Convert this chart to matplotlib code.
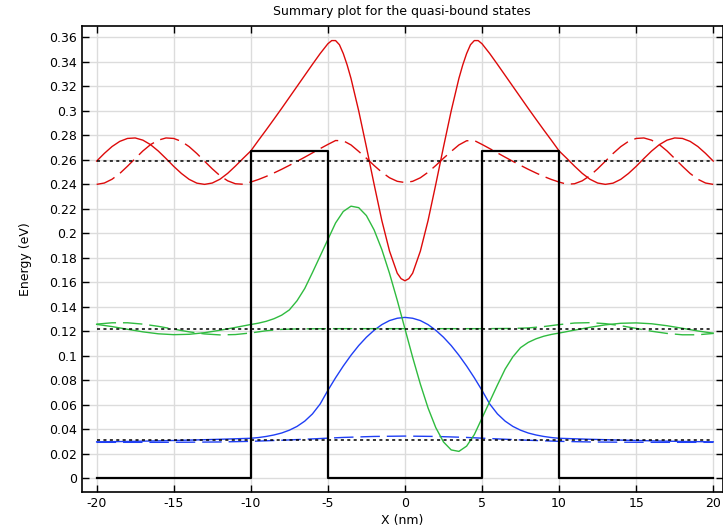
import numpy as np
import matplotlib.pyplot as plt

plt.rcParams['axes.unicode_minus'] = False
plt.rcParams['font.family'] = 'DejaVu Sans'

# Potential profile (double barrier)
pot_x = [-20, -10, -10, -5, -5, 5, 5, 10, 10, 20]
pot_v = [0, 0, 0.2674, 0.2674, 0, 0, 0.2674, 0.2674, 0, 0]

# Quasi-bound state energies (eV)
energies = [0.0310, 0.1219, 0.2594]

# State 3 (red), real and imaginary parts offset by energy
x_red = [-20, -19.5, -19, -18.5, -18, -17.5, -17, -16.5, -16, -15.5, -15,
         -14.5, -14, -13.5, -13, -12.5, -12, -11.5, -11, -10.5, -10,
         -9.5, -9, -8.5, -8, -7.5, -7, -6.5, -6, -5.5, -5, -4.75, -4.5,
         -4.25, -4, -3.75, -3.5, -3, -2.5, -2, -1.5, -1, -0.5, -0.25, 0,
         0.25, 0.5, 1, 1.5, 2, 2.5, 3, 3.5, 3.75, 4, 4.25, 4.5, 4.75, 5,
         5.5, 6, 6.5, 7, 7.5, 8, 8.5, 9, 9.5, 10,
         10.5, 11, 11.5, 12, 12.5, 13, 13.5, 14, 14.5, 15, 15.5, 16, 16.5,
         17, 17.5, 18, 18.5, 19, 19.5, 20]
red_re = [0.2590, 0.2653, 0.2709, 0.2751, 0.2775, 0.2779, 0.2761, 0.2724,
          0.2672, 0.2611, 0.2547, 0.2489, 0.2441, 0.2410, 0.2400, 0.2411,
          0.2442, 0.2490, 0.2549, 0.2612, 0.2673,
          0.2760, 0.2845, 0.2932, 0.3020, 0.3110, 0.3200, 0.3290, 0.3380,
          0.3468, 0.3548, 0.3574, 0.3574,
          0.3540, 0.3468, 0.3375, 0.3265, 0.3000, 0.2705, 0.2400, 0.2105,
          0.1855, 0.1675, 0.1630, 0.1613,
          0.1630, 0.1675, 0.1855, 0.2105, 0.2400, 0.2705, 0.3000, 0.3265,
          0.3375, 0.3468, 0.3540, 0.3574, 0.3574, 0.3548,
          0.3468, 0.3380, 0.3290, 0.3200, 0.3110, 0.3020, 0.2932, 0.2845,
          0.2760, 0.2673,
          0.2612, 0.2549, 0.2490, 0.2442, 0.2411, 0.2400, 0.2410, 0.2441,
          0.2489, 0.2547, 0.2611, 0.2672, 0.2724, 0.2761, 0.2779, 0.2775,
          0.2751, 0.2709, 0.2653, 0.2590]
x_red_im = [-20, -19.5, -19, -18.5, -18, -17.5, -17, -16.5, -16, -15.5, -15,
            -14.5, -14, -13.5, -13, -12.5, -12, -11.5, -11, -10.5, -10,
            -9.5, -9, -8.5, -8, -7.5, -7, -6.5, -6, -5.5, -5, -4.5,
            -4, -3.5, -3, -2.5, -2, -1.5, -1, -0.5, 0,
            0.5, 1, 1.5, 2, 2.5, 3, 3.5, 4,
            4.5, 5, 5.5, 6, 6.5, 7, 7.5, 8, 8.5, 9, 9.5, 10,
            10.5, 11, 11.5, 12, 12.5, 13, 13.5, 14, 14.5, 15, 15.5, 16, 16.5,
            17, 17.5, 18, 18.5, 19, 19.5, 20]
red_im = [0.2400, 0.2411, 0.2442, 0.2489, 0.2548, 0.2611, 0.2673, 0.2725,
          0.2761, 0.2779, 0.2775, 0.2751, 0.2708, 0.2652, 0.2589, 0.2527,
          0.2471, 0.2429, 0.2405, 0.2401, 0.2419,
          0.2440, 0.2465, 0.2493, 0.2523, 0.2555, 0.2588, 0.2622, 0.2657,
          0.2692, 0.2726, 0.2758,
          0.2756, 0.2722, 0.2669, 0.2613, 0.2554, 0.2499, 0.2454, 0.2425,
          0.2415,
          0.2425, 0.2454, 0.2499, 0.2554, 0.2613, 0.2669, 0.2722, 0.2756,
          0.2758, 0.2726, 0.2692, 0.2657, 0.2622, 0.2588, 0.2555,
          0.2523, 0.2493, 0.2465, 0.2440, 0.2419,
          0.2401, 0.2405, 0.2429, 0.2471, 0.2527, 0.2589, 0.2652, 0.2708,
          0.2751, 0.2775, 0.2779, 0.2761, 0.2725, 0.2673, 0.2611, 0.2548,
          0.2489, 0.2442, 0.2411, 0.2400]

# State 2 (green)
x_green = [-20, -19, -18, -17, -16, -15, -14, -13, -12, -11, -10,
           -9.5, -9, -8.5, -8, -7.5, -7, -6.5, -6, -5.5, -5,
           -4.5, -4, -3.5, -3, -2.5, -2, -1.5, -1, -0.5, 0,
           0.5, 1, 1.5, 2, 2.5, 3, 3.5, 4, 4.5, 5,
           5.5, 6, 6.5, 7, 7.5, 8, 8.5, 9, 9.5, 10,
           11, 12, 13, 14, 15, 16, 17, 18, 19, 20]
green_re = [0.1257, 0.1239, 0.1217, 0.1196, 0.1180, 0.1173, 0.1176, 0.1189,
            0.1209, 0.1232, 0.1256,
            0.1267, 0.1282, 0.1303, 0.1332, 0.1375, 0.1450, 0.1550, 0.1680,
            0.1815, 0.1950,
            0.2085, 0.2179, 0.2222, 0.2210, 0.2145, 0.2028, 0.1868, 0.1673,
            0.1454, 0.1221,
            0.0988, 0.0769, 0.0574, 0.0414, 0.0297, 0.0232, 0.0220, 0.0263,
            0.0357, 0.0492,
            0.0627, 0.0762, 0.0892, 0.0992, 0.1067, 0.1110, 0.1139, 0.1160,
            0.1175, 0.1186,
            0.1210, 0.1233, 0.1253, 0.1266, 0.1269, 0.1262, 0.1246, 0.1225,
            0.1203, 0.1185]
x_green_im = list(range(-20, 21))
green_im = [0.1259, 0.1270, 0.1270, 0.1259, 0.1241, 0.1218, 0.1196, 0.1179,
            0.1171, 0.1174, 0.1187, 0.1205, 0.1216, 0.1220, 0.1221, 0.1222,
            0.1222, 0.1222, 0.1222, 0.1222, 0.1222, 0.1222, 0.1222, 0.1222,
            0.1222, 0.1222, 0.1223, 0.1224, 0.1228, 0.1239, 0.1255, 0.1268,
            0.1271, 0.1263, 0.1246, 0.1224, 0.1201, 0.1183, 0.1172, 0.1172,
            0.1183]

# State 1 (blue)
x_blue = [-20, -18, -16, -14, -12, -10,
          -9.5, -9, -8.5, -8, -7.5, -7, -6.5, -6, -5.5, -5,
          -4.5, -4, -3.5, -3, -2.5, -2, -1.5, -1, -0.5, 0,
          0.5, 1, 1.5, 2, 2.5, 3, 3.5, 4, 4.5, 5,
          5.5, 6, 6.5, 7, 7.5, 8, 8.5, 9, 9.5, 10,
          12, 14, 16, 18, 20]
blue_re = [0.0298, 0.0301, 0.0306, 0.0312, 0.0319, 0.0327,
           0.0333, 0.0342, 0.0354, 0.0370, 0.0393, 0.0424, 0.0467, 0.0526,
           0.0607, 0.0718,
           0.0821, 0.0917, 0.1005, 0.1084, 0.1152, 0.1209, 0.1255, 0.1288,
           0.1307, 0.1314,
           0.1307, 0.1288, 0.1255, 0.1209, 0.1152, 0.1084, 0.1005, 0.0917,
           0.0821, 0.0718,
           0.0607, 0.0526, 0.0467, 0.0424, 0.0393, 0.0370, 0.0354, 0.0342,
           0.0333, 0.0327,
           0.0319, 0.0312, 0.0306, 0.0301, 0.0298]
x_blue_im = list(range(-20, 21, 2))
blue_im = [0.0294, 0.0294, 0.0294, 0.0295, 0.0297, 0.0302, 0.0311, 0.0322,
           0.0334, 0.0342, 0.0345, 0.0342, 0.0334, 0.0322, 0.0311, 0.0302,
           0.0297, 0.0295, 0.0294, 0.0294, 0.0294]

red = '#dd0a0a'
green = '#2fbb3f'
blue = '#1f3ff5'
long_dash = (0, (14, 5))

fig = plt.figure(figsize=(7.23, 5.29), dpi=100)
ax = fig.add_axes([82 / 723, 1 - 492.3 / 529, (722.5 - 82) / 723, (492.3 - 26) / 529])

ax.plot(x_blue, blue_re, color=blue, lw=1.0)
ax.plot(x_blue_im, blue_im, color=blue, lw=1.0, linestyle=long_dash)
ax.plot(x_green, green_re, color=green, lw=1.0)
ax.plot(x_green_im, green_im, color=green, lw=1.0, linestyle=long_dash)
ax.plot(x_red, red_re, color=red, lw=1.0)
ax.plot(x_red_im, red_im, color=red, lw=1.0, linestyle=long_dash)

for e in energies:
    ax.plot([-20, 20], [e, e], color='black', lw=1.1, linestyle=(0, (2, 2.2)))

ax.plot(pot_x, pot_v, color='black', lw=1.6)

ax.set_xlim(-20.95, 20.6)
ax.set_ylim(-0.0114, 0.3693)
ax.set_xticks(np.arange(-20, 21, 5))
ax.set_yticks(np.arange(0, 0.361, 0.02))
ax.xaxis.set_major_formatter(plt.FormatStrFormatter('%g'))
ax.yaxis.set_major_formatter(plt.FuncFormatter(lambda v, p: '%g' % round(v, 2)))
ax.tick_params(direction='in', length=5, width=1, top=True, right=True,
               labelsize=9, colors='black')
ax.grid(True, color='#dcdcdc', lw=1)
ax.set_axisbelow(True)
for s in ax.spines.values():
    s.set_linewidth(1.2)

ax.set_title('Summary plot for the quasi-bound states', fontsize=9, pad=8)
ax.set_xlabel('X (nm)', fontsize=9, labelpad=3)
ax.set_ylabel('Energy (eV)', fontsize=9, labelpad=12)

fig.savefig('out.png', dpi=100)
